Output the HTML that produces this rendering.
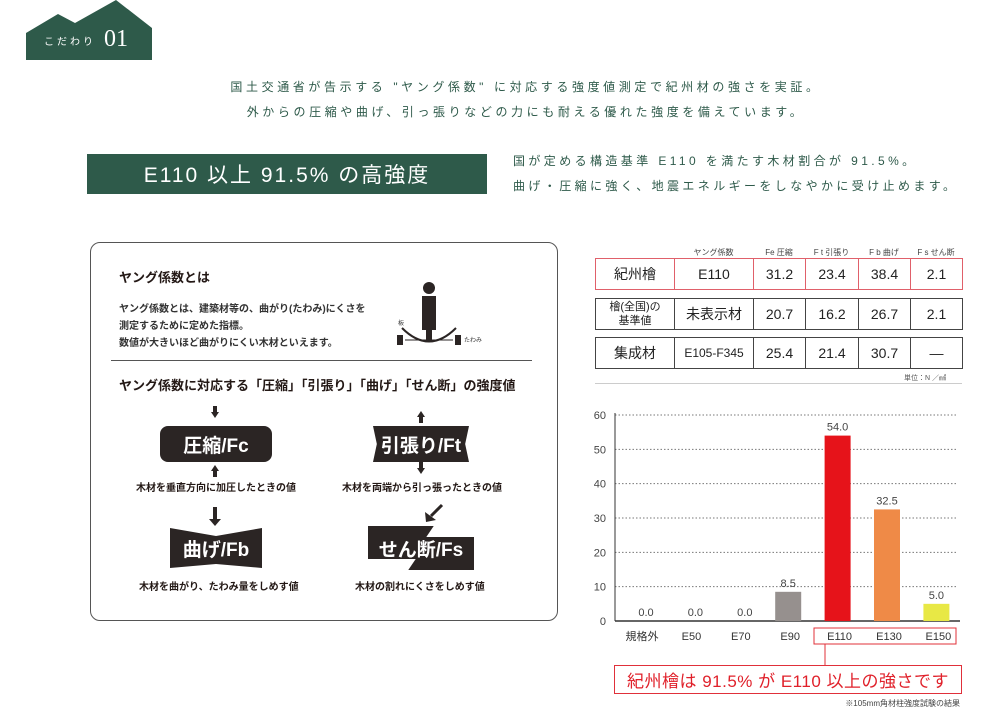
<!DOCTYPE html>
<html><head><meta charset="utf-8">
<style>
*{margin:0;padding:0;box-sizing:border-box}
body{width:1000px;height:723px;background:#fff;position:relative;overflow:hidden;font-family:"Liberation Sans","Noto Sans CJK JP",sans-serif;color:#231815}
.a{position:absolute;white-space:nowrap}
.g{color:#2e5a4a}
.cell{position:absolute;border:1px solid #444;display:flex;align-items:center;justify-content:center;font-size:14px;color:#222}
.hd{position:absolute;font-size:8px;color:#444;text-align:center;top:247px}
.blk{position:absolute;background:#2b2524;color:#fff;font-weight:bold;font-size:19px;display:flex;align-items:center;justify-content:center}
.cap{position:absolute;font-size:10px;font-weight:bold;text-align:center;white-space:nowrap}
</style></head><body>
<svg class="a" style="left:0;top:0" width="160" height="62"><polygon points="26,33 58,14 75,23 116,0 152,28 152,60 26,60" fill="#2e5a4a"/></svg>
<div class="a" style="left:44px;top:33px;color:#fff;font-size:10px;letter-spacing:3px">こだわり</div>
<div class="a" style="left:104px;top:26px;color:#fff;font-size:24px;font-family:'Liberation Serif',serif">01</div>

<div class="a g" style="left:0;width:1052px;text-align:center;top:78px;font-size:12px;letter-spacing:3.6px">国土交通省が告示する "ヤング係数" に対応する強度値測定で紀州材の強さを実証。</div>
<div class="a g" style="left:0;width:1052px;text-align:center;top:103px;font-size:12px;letter-spacing:3.6px">外からの圧縮や曲げ、引っ張りなどの力にも耐える優れた強度を備えています。</div>

<div class="a" style="left:87px;top:154px;width:400px;height:40px;background:#2e5a4a;color:#fff;font-size:21px;letter-spacing:2px;display:flex;align-items:center;justify-content:center">E110 以上 91.5% の高強度</div>
<div class="a g" style="left:513px;top:152px;font-size:12px;letter-spacing:3.4px">国が定める構造基準 E110 を満たす木材割合が 91.5%。</div>
<div class="a g" style="left:513px;top:177px;font-size:12px;letter-spacing:3.4px">曲げ・圧縮に強く、地震エネルギーをしなやかに受け止めます。</div>

<div class="a" style="left:90px;top:242px;width:468px;height:379px;border:1px solid #555;border-radius:10px"></div>
<div class="a" style="left:119px;top:267px;font-size:13px;font-weight:bold">ヤング係数とは</div>
<div class="a" style="left:119px;top:301px;font-size:10px;font-weight:bold;line-height:17px;color:#333">ヤング係数とは、建築材等の、曲がり(たわみ)にくさを<br>測定するために定めた指標。<br>数値が大きいほど曲がりにくい木材といえます。</div>
<svg class="a" style="left:390px;top:280px" width="110" height="70">
<circle cx="39" cy="8" r="6" fill="#2b2524"/><rect x="32" y="16" width="14" height="34" fill="#2b2524"/><rect x="36" y="48" width="6" height="14" fill="#2b2524"/>
<path d="M12 48 Q39 75 66 48" stroke="#2b2524" stroke-width="2" fill="none"/>
<rect x="7" y="55" width="6" height="10" fill="#2b2524"/><rect x="65" y="55" width="6" height="10" fill="#2b2524"/>
<line x1="15" y1="60" x2="63" y2="60" stroke="#2b2524"/>
<text x="8" y="45" font-size="6" fill="#333">板</text><text x="74" y="62" font-size="6" fill="#333">たわみ</text></svg>
<div class="a" style="left:111px;top:360px;width:421px;height:1px;background:#555"></div>
<div class="a" style="left:119px;top:375px;font-size:13px;font-weight:bold">ヤング係数に対応する「圧縮」「引張り」「曲げ」「せん断」の強度値</div>

<svg class="a" style="left:0;top:0" width="600" height="620">
<g fill="#2b2524">
<polygon points="211,412 219,412 215,418"/><rect x="213" y="406" width="4" height="6"/>
<polygon points="211,471 219,471 215,465"/><rect x="213" y="471" width="4" height="6"/>
<polygon points="417,417 425,417 421,411"/><rect x="419" y="417" width="4" height="6"/>
<polygon points="417,468 425,468 421,474"/><rect x="419" y="462" width="4" height="6"/>
<polygon points="209,519 221,519 215,526"/><rect x="213" y="507" width="4" height="12"/>
<polygon points="426,522 425,512 436,520"/><line x1="442" y1="505" x2="431" y2="516" stroke="#2b2524" stroke-width="3"/>
</g></svg>
<div class="blk" style="left:160px;top:426px;width:112px;height:36px;border-radius:8px">圧縮/Fc</div>
<div class="cap" style="left:136px;top:479px">木材を垂直方向に加圧したときの値</div>

<div class="blk" style="left:373px;top:426px;width:96px;height:36px;clip-path:polygon(0 0,100% 0,96% 50%,100% 100%,0 100%,4% 50%)">引張り/Ft</div>
<div class="cap" style="left:342px;top:479px">木材を両端から引っ張ったときの値</div>

<div class="blk" style="left:170px;top:528px;width:92px;height:40px;clip-path:polygon(0 0,50% 20%,100% 0,100% 100%,50% 90%,0 100%)">曲げ/Fb</div>
<div class="cap" style="left:139px;top:578px">木材を曲がり、たわみ量をしめす値</div>

<div class="blk" style="left:368px;top:526px;width:106px;height:44px;clip-path:polygon(0 0,62% 0,55% 25%,100% 25%,100% 100%,38% 100%,45% 75%,0 75%)">せん断/Fs</div>
<div class="cap" style="left:355px;top:578px">木材の割れにくさをしめす値</div>

<div id="tbl"></div>
<div class="a" style="left:904px;top:373px;font-size:7px;color:#555">単位：N ／㎟</div>
<div class="a" style="left:595px;top:383px;width:367px;height:1px;background:#ccc"></div>

<svg id="chart" class="a" style="left:0;top:0" width="1000" height="723"></svg>
<div class="a" style="left:614px;top:665px;width:348px;height:29px;border:1px solid #e0303a;color:#e0202a;font-size:17px;display:flex;align-items:center;justify-content:center;letter-spacing:0.5px">紀州檜は 91.5% が E110 以上の強さです</div>
<div class="a" style="left:780px;width:180px;text-align:right;top:698px;font-size:8px;color:#444">※105mm角材柱強度試験の結果</div>

<script>
const headers=["ヤング係数","Fe 圧縮","F t 引張り","F b 曲げ","F s せん断"];
const rowNames=["紀州檜","檜(全国)の<br>基準値","集成材"];
const rowVals=[["E110","31.2","23.4","38.4","2.1"],["未表示材","20.7","16.2","26.7","2.1"],["E105-F345","25.4","21.4","30.7","—"]];
const categories=["規格外","E50","E70","E90","E110","E130","E150"];
const values=[0.0,0.0,0.0,8.5,54.0,32.5,5.0];
const yTicks=[0,10,20,30,40,50,60];
const colors=["#999","#999","#999","#96908e","#e6131a","#ef8a47","#e8e845"];

const colX=[595,674,753,805,858,910,962], rowY=[[258,290],[298,330],[337,369]];
const tbl=document.getElementById('tbl');
headers.forEach((h,i)=>{const d=document.createElement('div');d.className='hd';


d.style.left=colX[i+1]+'px';d.style.width=(colX[i+2]-colX[i+1])+'px';d.textContent=h;tbl.appendChild(d);});
rowNames.forEach((n,r)=>{const cells=[n].concat(rowVals[r]);cells.forEach((c,i)=>{const d=document.createElement('div');d.className='cell';


d.style.left=colX[i]+'px';d.style.width=(colX[i+1]-colX[i]+1)+'px';d.style.top=rowY[r][0]+'px';d.style.height=(rowY[r][1]-rowY[r][0])+'px';
if(r===0)d.style.borderColor='#e0606a';
if(r===1&&i===0){d.style.fontSize='11px';d.style.lineHeight='14px';d.style.textAlign='center';}
if(c==='E105-F345')d.style.fontSize='12px';
d.innerHTML=c;tbl.appendChild(d);});});

const svg=document.getElementById('chart'),NS='http://www.w3.org/2000/svg';
const x0=615,x1=958,yb=621,yt=415,ymax=60;
const y=v=>yb-(v/ymax)*(yb-yt);
const xc=i=>640+i*49.4;
function mk(t,a){const e=document.createElementNS(NS,t);for(const k in a)e.setAttribute(k,a[k]);svg.appendChild(e);return e;}
yTicks.forEach(t=>{
 if(t>0){const l=mk('line',{x1:x0,x2:x1,y1:y(t),y2:y(t),stroke:'#777','stroke-dasharray':'1.5,2'});
 
 }
 const tx=mk('text',{x:606,y:y(t)+4,'font-size':11,'text-anchor':'end',fill:'#444'});
 
 
 tx.textContent=t;});
const ax=mk('line',{x1:x0,x2:x0,y1:yt-2,y2:yb,stroke:'#333'});


const bx=mk('line',{x1:x0,x2:x1+2,y1:yb,y2:yb,stroke:'#333','stroke-width':1.5});


categories.forEach((c,i)=>{
 const v=values[i];
 if(v>0){const b=mk('rect',{x:xc(i)-13,y:y(v),width:26,height:yb-y(v),fill:colors[i]});
 
 }
 const vl=mk('text',{x:xc(i)+(v>0?0:6),y:y(v)-5,'font-size':11,'text-anchor':'middle',fill:'#444'});
 
 
 vl.textContent=v.toFixed(1);
 const cl=mk('text',{x:xc(i)+2,y:640,'font-size':11,'text-anchor':'middle',fill:'#333'});
 
 
 cl.textContent=c;});
const hb=mk('rect',{x:814,y:628,width:142,height:16,fill:'none',stroke:'#e0303a'});


const cn=mk('line',{x1:825,x2:825,y1:644,y2:665,stroke:'#e0303a'});


</script>
</body></html>
